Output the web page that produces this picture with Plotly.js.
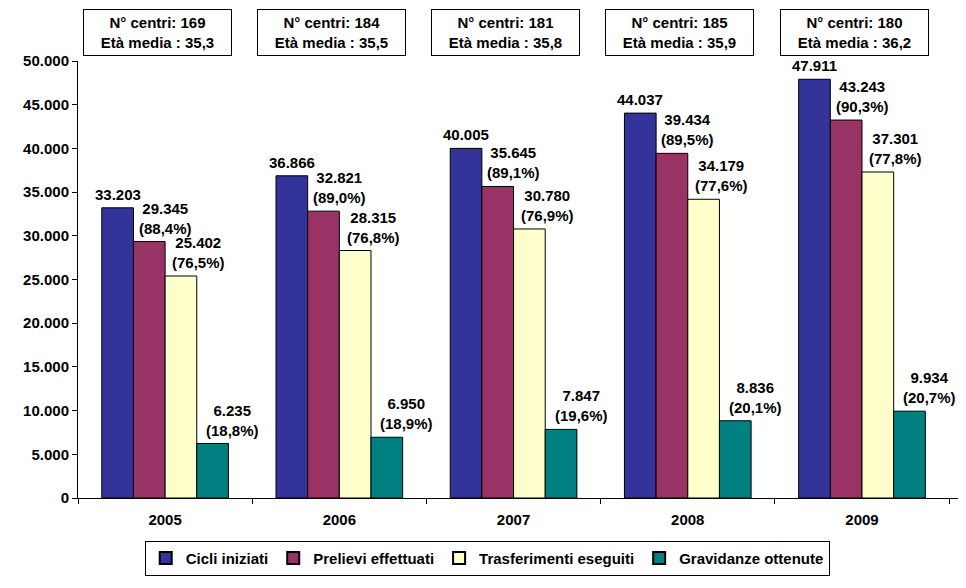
<!DOCTYPE html>
<html>
<head>
<meta charset="utf-8">
<script src="https://cdn.plot.ly/plotly-3.0.1.min.js"></script>
<style>html,body{margin:0;padding:0;background:#fff;}#chart{width:966px;height:588px;}</style>
</head>
<body>
<div id="chart"></div>
<script>
const years = ['2005', '2006', '2007', '2008', '2009'];
const seriesNames = ['Cicli iniziati', 'Prelievi effettuati', 'Trasferimenti eseguiti', 'Gravidanze ottenute'];
const cicli = [33203, 36866, 40005, 44037, 47911];
const prelievi = [29345, 32821, 35645, 39434, 43243];
const trasferimenti = [25402, 28315, 30780, 34179, 37301];
const gravidanze = [6235, 6950, 7847, 8836, 9934];
const pctPrelievi = ['88,4%', '89,0%', '89,1%', '89,5%', '90,3%'];
const pctTrasferimenti = ['76,5%', '76,8%', '76,9%', '77,6%', '77,8%'];
const pctGravidanze = ['18,8%', '18,9%', '19,6%', '20,1%', '20,7%'];
const nCentri = [169, 184, 181, 185, 180];
const etaMedia = ['35,3', '35,5', '35,8', '35,9', '36,2'];

const colors = ['#333399', '#993366', '#FFFFCC', '#008080'];
const allValues = [cicli, prelievi, trasferimenti, gravidanze];
const allPcts = [null, pctPrelievi, pctTrasferimenti, pctGravidanze];

const FONT = 'Arial, "Liberation Sans", sans-serif';

const traces = allValues.map((vals, j) => ({
  type: 'bar',
  name: seriesNames[j],
  x: years,
  y: vals,
  marker: {color: colors[j], line: {color: '#000', width: 1}},
  hoverinfo: 'none'
}));

const bargap = 0.273;
const barW = (1 - bargap) / 4;
const labelShift = [0, 16, 18, 20];
const annotations = [];
allValues.forEach((vals, j) => {
  vals.forEach((v, i) => {
    const num = v.toLocaleString('de-DE');
    const txt = allPcts[j] ? num + '<br>(' + allPcts[j][i] + ')' : num;
    annotations.push({
      xref: 'x', yref: 'y',
      x: i + (j - 1.5) * barW, y: v,
      text: '<b>' + txt + '</b>',
      showarrow: false,
      xanchor: 'center', yanchor: 'bottom',
      xshift: labelShift[j], yshift: 3,
      font: {family: FONT, size: 15, color: '#000'}
    });
  });
});
years.forEach((yr, i) => {
  annotations.push({
    xref: 'x', yref: 'paper',
    x: i, y: 1,
    text: '<b>N° centri: ' + nCentri[i] + '<br>Età media : ' + etaMedia[i] + '</b>',
    showarrow: false,
    xanchor: 'center', yanchor: 'bottom',
    xshift: -8, yshift: 5,
    width: 139,
    bgcolor: '#fff', bordercolor: '#000', borderwidth: 1, borderpad: 4,
    font: {family: FONT, size: 15, color: '#000'}
  });
});

const layout = {
  width: 966, height: 588,
  margin: {l: 78, r: 8, t: 61, b: 90},
  paper_bgcolor: '#fff', plot_bgcolor: '#fff',
  separators: ',.',
  barmode: 'group',
  bargap: bargap,
  bargroupgap: 0,
  showlegend: true,
  legend: {
    orientation: 'h',
    x: 0.465, xanchor: 'center',
    y: -0.098, yanchor: 'top',
    bordercolor: '#000', borderwidth: 1,
    font: {family: FONT, size: 15, color: '#000', weight: 'bold'},
    itemsizing: 'constant',
    itemwidth: 30
  },
  xaxis: {
    type: 'category',
    showline: true, linecolor: '#000', linewidth: 1,
    ticks: 'outside', tickson: 'boundaries', ticklen: 5, tickcolor: '#000',
    showgrid: false, zeroline: false,
    ticklabelstandoff: 8,
    tickfont: {family: FONT, size: 15, color: '#000', weight: 'bold'}
  },
  yaxis: {
    range: [0, 50000],
    dtick: 5000,
    tickformat: ',d',
    showline: true, linecolor: '#000', linewidth: 1,
    ticks: 'outside', ticklen: 5, tickcolor: '#000',
    showgrid: false, zeroline: false,
    tickfont: {family: FONT, size: 15, color: '#000', weight: 'bold'}
  },
  annotations: annotations
};

Plotly.newPlot('chart', traces, layout, {staticPlot: true, displayModeBar: false});
</script>
</body>
</html>
